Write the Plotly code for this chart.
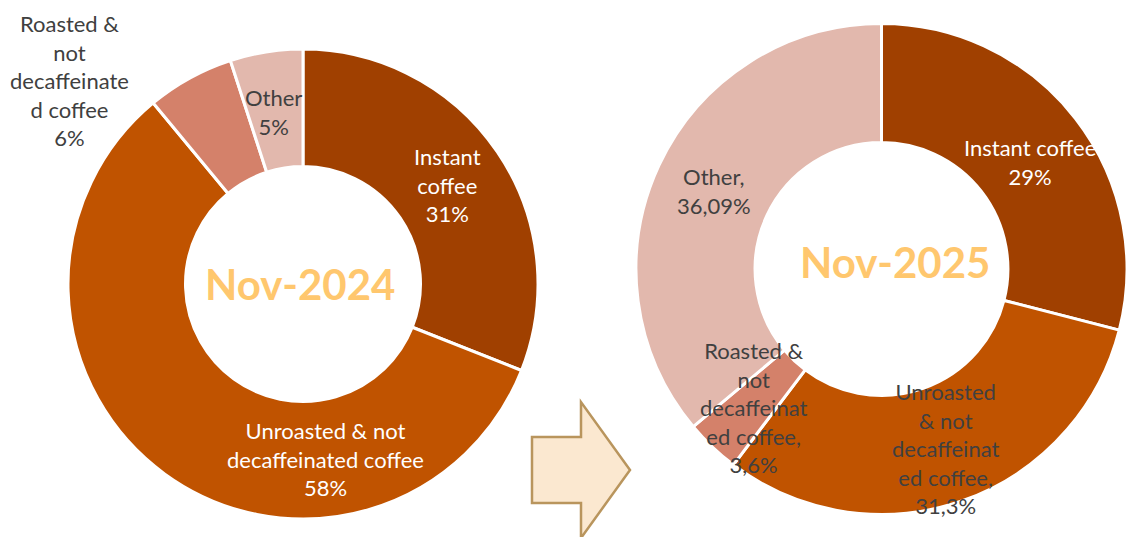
import plotly.graph_objects as go

# categories, in the order drawn (clockwise from 12 o'clock)
categories = ['Instant coffee', 'Unroasted & not decaffeinated coffee',
              'Roasted & not decaffeinated coffee', 'Other']
share_2024 = [31, 58, 6, 5]
share_2025 = [29, 31.3, 3.6, 36.09]

# wrapped label names as they appear on the chart
names_2024 = ['Instant<br>coffee', 'Unroasted & not<br>decaffeinated coffee',
              'Roasted &<br>not<br>decaffeinate<br>d coffee', 'Other']
names_2025 = ['Instant coffee', 'Unroasted<br>& not<br>decaffeinat<br>ed coffee,',
              'Roasted &<br>not<br>decaffeinat<br>ed coffee,', 'Other,']

colors = ['#A04000', '#C05300', '#D4816A', '#E2B8AD']
W, H = 1127, 537


def fmt(v):
	return f'{v:g}'.replace('.', ',') + '%'


def px(x, y):
	return x / W, 1 - y / H


fig = go.Figure()

fig.add_trace(go.Pie(
	labels=categories, values=share_2024, hole=0.5, sort=False,
	direction='clockwise', rotation=0, textinfo='none',
	marker=dict(colors=colors, line=dict(color='white', width=3)),
	domain=dict(x=[68 / W, 538 / W], y=[1 - 519 / H, 1 - 49 / H]),
	showlegend=False
))

fig.add_trace(go.Pie(
	labels=categories, values=share_2025, hole=0.515, sort=False,
	direction='clockwise', rotation=0, textinfo='none',
	marker=dict(colors=colors, line=dict(color='white', width=3)),
	domain=dict(x=[636 / W, 1], y=[1 - 518 / H, 1 - 20 / H]),
	showlegend=False
))

# label anchors (pixel centres)
pos_2024 = [(448, 185), (325, 459), (69, 80), (273, 112)]
pos_2025 = [(1030, 162), (945, 448), (754, 407), (714, 191)]

annotations = []
for names, vals, pos, cols in [
	(names_2024, share_2024, pos_2024, ['white', 'white', '#404040', '#404040']),
	(names_2025, share_2025, pos_2025, ['white', '#404040', '#404040', '#404040']),
]:
	for n, v, (x, y), c in zip(names, vals, pos, cols):
		ax, ay = px(x, y)
		annotations.append(dict(
			x=ax, y=ay, xref='paper', yref='paper', showarrow=False,
			xanchor='center', yanchor='middle',
			text=f'{n}<br>{fmt(v)}', align='center',
			font=dict(family='Lato', size=22, color=c)
		))

for t, (x, y) in [('Nov-2024', (300, 284)), ('Nov-2025', (895, 262))]:
	ax, ay = px(x, y)
	annotations.append(dict(
		x=ax, y=ay, xref='paper', yref='paper', showarrow=False,
		xanchor='center', yanchor='middle', text=f'<b>{t}</b>',
		font=dict(family='Lato', size=42, color='#FFC76E')
	))

# block arrow between the two donuts
arrow = [(532, 437), (581, 437), (581, 402), (630, 470), (581, 538), (581, 503), (532, 503)]
path = 'M ' + ' L '.join(f'{px(x, y)[0]:.5f},{px(x, y)[1]:.5f}' for x, y in arrow) + ' Z'

fig.update_layout(
	width=W, height=H,
	margin=dict(l=0, r=0, t=0, b=0),
	paper_bgcolor='white',
	annotations=annotations,
	shapes=[dict(type='path', path=path, xref='paper', yref='paper',
		fillcolor='#FBE8D0', line=dict(color='#B9955D', width=2.5))]
)

fig.write_html('out.html', config={'displayModeBar': False},
	post_script="document.body.style.margin='0';")
